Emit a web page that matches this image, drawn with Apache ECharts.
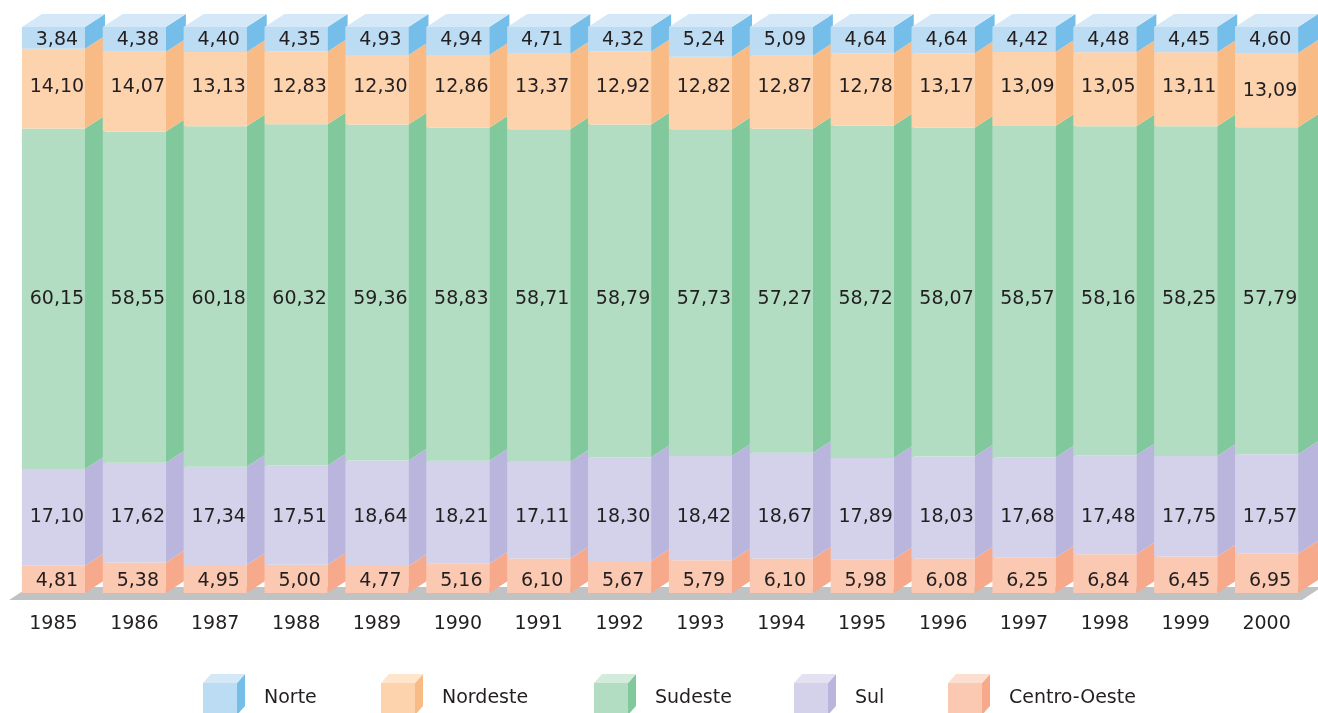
<!DOCTYPE html>
<html>
<head>
<meta charset="utf-8">
<script src="https://cdn.jsdelivr.net/npm/echarts@6/dist/echarts.min.js"></script>
<style>
  html, body { margin: 0; padding: 0; background: #fff; }
  #chart { width: 1318px; height: 713px; }
</style>
</head>
<body>
<div id="chart"></div>
<script>
// ---- data ----
const years = ['1985','1986','1987','1988','1989','1990','1991','1992','1993','1994','1995','1996','1997','1998','1999','2000'];
const norte      = [3.84, 4.38, 4.40, 4.35, 4.93, 4.94, 4.71, 4.32, 5.24, 5.09, 4.64, 4.64, 4.42, 4.48, 4.45, 4.60];
const nordeste   = [14.10, 14.07, 13.13, 12.83, 12.30, 12.86, 13.37, 12.92, 12.82, 12.87, 12.78, 13.17, 13.09, 13.05, 13.11, 13.09];
const sudeste    = [60.15, 58.55, 60.18, 60.32, 59.36, 58.83, 58.71, 58.79, 57.73, 57.27, 58.72, 58.07, 58.57, 58.16, 58.25, 57.79];
const sul        = [17.10, 17.62, 17.34, 17.51, 18.64, 18.21, 17.11, 18.30, 18.42, 18.67, 17.89, 18.03, 17.68, 17.48, 17.75, 17.57];
const centroOeste= [4.81, 5.38, 4.95, 5.00, 4.77, 5.16, 6.10, 5.67, 5.79, 6.10, 5.98, 6.08, 6.25, 6.84, 6.45, 6.95];
const seriesNames = ['Norte', 'Nordeste', 'Sudeste', 'Sul', 'Centro-Oeste'];

// ---- styles ----
const FONT = '"DejaVu Sans", "Liberation Sans", Arial, sans-serif';
const FONT_SIZE = 19;
const TEXT_COLOR = '#231f20';
const DX = 20, DY = 13;        // depth of the 3D effect (px)
const BAR_RATIO = 0.78;        // front face width / band width
const LABEL_SHIFT = 3.5;       // labels sit slightly right of the front-face centre
const LABEL_DROP = 2;          // small vertical nudge for the labels
const colors = {
  'Norte':        { front: '#bcdcf3', side: '#74bee9', top: '#d5e8f8' },
  'Nordeste':     { front: '#fdd3ae', side: '#f9bb86', top: '#fee5cc' },
  'Sudeste':      { front: '#b2ddc2', side: '#81c99c', top: '#d2ebdb' },
  'Sul':          { front: '#d4d2ea', side: '#b9b5dc', top: '#e4e2f2' },
  'Centro-Oeste': { front: '#fbc8b2', side: '#f6aa8b', top: '#fddfd2' }
};
// label rows (value on the y scale where the labels of each region sit)
const labelRow = { 'Norte': 98.05, 'Nordeste': 89.75, 'Sudeste': 52.3, 'Sul': 13.8, 'Centro-Oeste': 2.45 };

// stacking order from bottom to top
const stackOrder = [
  ['Centro-Oeste', centroOeste],
  ['Sul', sul],
  ['Sudeste', sudeste],
  ['Nordeste', nordeste],
  ['Norte', norte]
];

function fmt(v) { return v.toFixed(2).replace('.', ','); }

const base = years.map(() => 0);
const series = [];

// floor
series.push({
  type: 'custom',
  name: 'floor',
  silent: true,
  z: 1,
  data: [[0]],
  renderItem: function (params, api) {
    const cs = params.coordSys;
    const yb = cs.y + cs.height + 7;
    const xl = cs.x - 4, xr = cs.x + cs.width - 5;
    return {
      type: 'polygon',
      shape: { points: [[xl, yb], [xr, yb], [xr + DX, yb - DY], [xl + DX, yb - DY]] },
      style: { fill: '#c1c2c4' }
    };
  }
});

stackOrder.forEach(function ([name, arr], layer) {
  const col = colors[name];
  const isTop = layer === stackOrder.length - 1 ? 1 : 0;
  const data = arr.map(function (v, i) {
    const d = [i, v, base[i], isTop];
    base[i] += v;
    return d;
  });
  series.push({
    type: 'custom',
    name: name,
    z: 2,
    data: data,
    encode: { x: 0, y: 1 },
    renderItem: function (params, api) {
      const ci = api.value(0), v = api.value(1), b = api.value(2), top = api.value(3);
      const p0 = api.coord([ci, b]);
      const p1 = api.coord([ci, b + v]);
      const band = api.size([1, 0])[0];
      const w = band * BAR_RATIO;
      const x0 = p0[0] - w / 2, x1 = x0 + w;
      const yT = p1[1], yB = p0[1];
      const zb = ci * 10;
      const ly = api.coord([ci, labelRow[name] + (name === 'Nordeste' && ci === 15 ? -0.7 : 0)])[1] + LABEL_DROP;
      const children = [
        { type: 'rect', z2: zb + 1, shape: { x: x0, y: yT, width: w, height: yB - yT }, style: { fill: col.front } },
        { type: 'polygon', z2: zb + 1, shape: { points: [[x1, yT], [x1 + DX, yT - DY], [x1 + DX, yB - DY], [x1, yB]] }, style: { fill: col.side } },
        { type: 'text', z2: zb + 5, style: { text: fmt(v), x: (x0 + x1) / 2 + LABEL_SHIFT, y: ly, align: 'center', verticalAlign: 'middle', fontSize: FONT_SIZE, fontFamily: FONT, fill: TEXT_COLOR } }
      ];
      if (top) {
        children.push({ type: 'polygon', z2: zb + 1, shape: { points: [[x0, yT], [x0 + DX, yT - DY], [x1 + DX, yT - DY], [x1, yT]] }, style: { fill: col.top } });
      }
      return { type: 'group', children: children };
    }
  });
});

// legend drawn as little cubes
const legendX = [203, 381, 594, 794, 948];
const legendGraphics = seriesNames.map(function (name, k) {
  const col = colors[name];
  const x = legendX[k], y = 683, w = 34, h = 32, dx = 8, dy = 9;
  return {
    type: 'group',
    children: [
      { type: 'rect', shape: { x: x, y: y, width: w, height: h }, style: { fill: col.front } },
      { type: 'polygon', shape: { points: [[x + w, y], [x + w + dx, y - dy], [x + w + dx, y + h - dy], [x + w, y + h]] }, style: { fill: col.side } },
      { type: 'polygon', shape: { points: [[x, y], [x + dx, y - dy], [x + w + dx, y - dy], [x + w, y]] }, style: { fill: col.top } },
      { type: 'text', style: { text: name, x: x + 61, y: 698.5, verticalAlign: 'middle', align: 'left', fontSize: FONT_SIZE, fontFamily: FONT, fill: TEXT_COLOR } }
    ]
  };
});

const chart = echarts.init(document.getElementById('chart'), null, { renderer: 'canvas' });
chart.setOption({
  animation: false,
  backgroundColor: '#ffffff',
  grid: { left: 13, right: 11, top: 27, bottom: 120, containLabel: false },
  xAxis: {
    type: 'category',
    data: years,
    axisLine: { show: false },
    axisTick: { show: false },
    axisLabel: { margin: 22, fontSize: FONT_SIZE, fontFamily: FONT, color: TEXT_COLOR }
  },
  yAxis: { type: 'value', min: 0, max: 100, show: false },
  graphic: legendGraphics,
  series: series
});
</script>
</body>
</html>
